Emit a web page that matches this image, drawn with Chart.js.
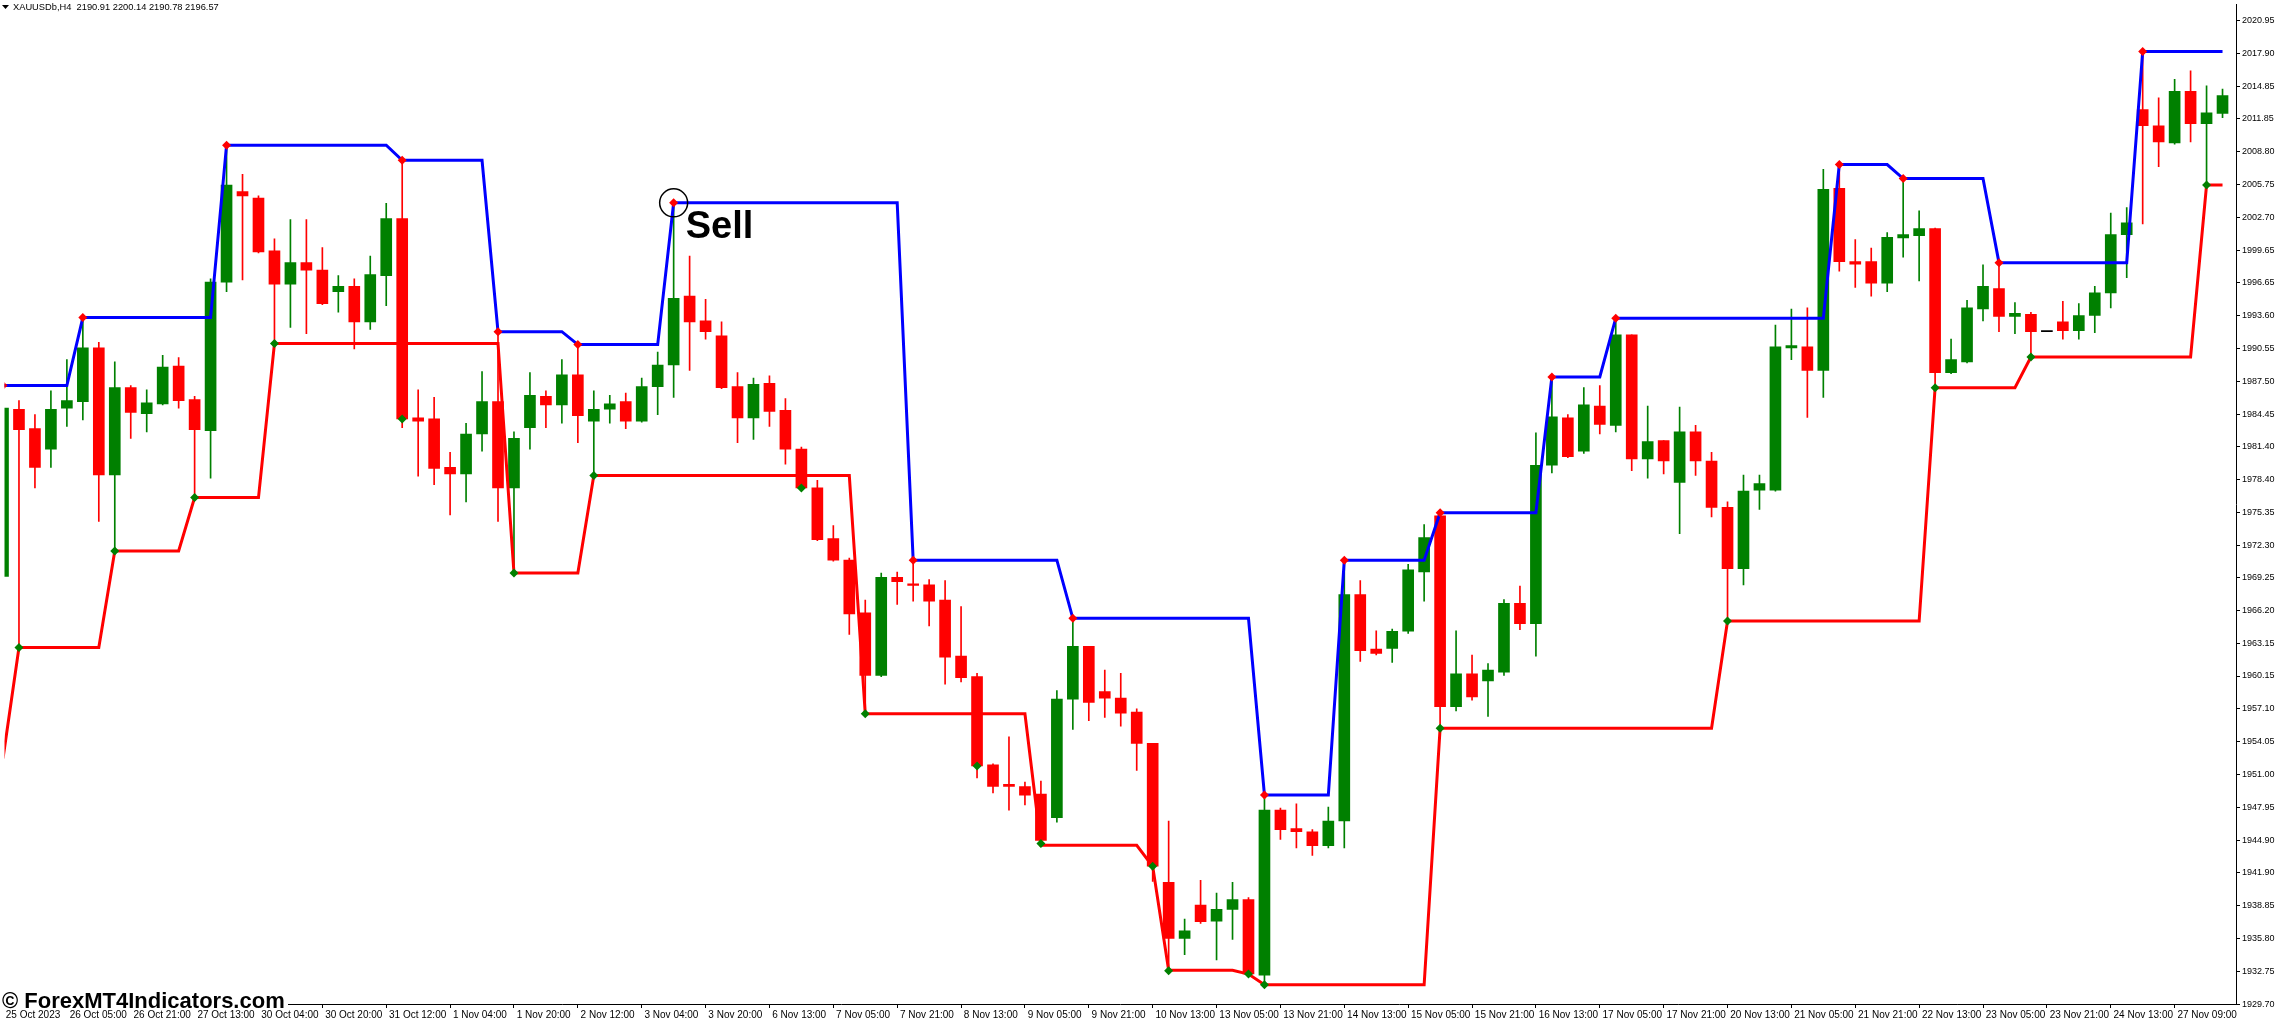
<!DOCTYPE html>
<html>
<head>
<meta charset="utf-8">
<title>XAUUSDb,H4</title>
<script src="https://cdn.jsdelivr.net/npm/chart.js@4.4.1/dist/chart.umd.min.js"></script>
<style>
    html, body { margin: 0; padding: 0; background: #fff; }
</style>
</head>
<body>
<canvas id="priceChart" width="2275" height="1026"></canvas>
<script>
const headerText = 'XAUUSDb,H4  2190.91 2200.14 2190.78 2196.57';

const opens = [
    1969.4, 1984.9, 1983.1, 1981.2, 1985.0, 1985.6, 1990.6, 1978.8, 1986.9, 1984.5,
    1985.4, 1988.9, 1985.8, 1982.9, 1996.7, 2005.1, 2004.5, 1999.6, 1996.5, 1998.5,
    1997.8, 1995.8, 1996.3, 1993.0, 1997.3, 2002.6, 1984.1, 1984.0, 1979.5, 1978.9,
    1982.6, 1985.6, 1977.6, 1983.2, 1986.1, 1985.3, 1988.1, 1983.8, 1984.9, 1985.6,
    1983.8, 1987.0, 1989.0, 1995.4, 1993.1, 1991.7, 1987.0, 1984.1, 1987.3, 1984.8,
    1981.2, 1977.6, 1972.9, 1970.9, 1966.0, 1960.2, 1969.3, 1968.7, 1968.6, 1967.2,
    1962.0, 1960.1, 1951.9, 1950.1, 1949.9, 1949.2, 1947.0, 1958.0, 1962.9, 1958.7,
    1958.1, 1956.8, 1953.9, 1941.0, 1935.8, 1938.9, 1937.4, 1938.5, 1939.4, 1932.4,
    1947.7, 1946.0, 1945.7, 1944.4, 1946.7, 1967.7, 1962.65, 1962.7, 1964.3, 1969.8,
    1975.0, 1957.3, 1960.35, 1959.7, 1960.5, 1966.9, 1965.0, 1979.7, 1984.1, 1981.0,
    1985.2, 1983.4, 1991.8, 1980.3, 1982.0, 1978.1, 1982.8, 1980.1, 1975.8, 1970.1,
    1977.4, 1977.4, 1990.6, 1990.7, 1988.5, 2005.4, 1998.6, 1998.6, 1996.6, 2000.8,
    2001.0, 2001.65, 1988.3, 1989.3, 1994.2, 1996.1, 1993.5, 1993.7, 1992.1, 1993.0,
    1992.2, 1993.6, 1995.7, 2001.1, 2012.7, 2011.2, 2009.6, 2014.4, 2011.4, 2012.35
];
const highs = [
    1985.6, 1985.7, 1984.4, 1986.6, 1989.5, 1993.4, 1991.1, 1989.3, 1987.1, 1986.7,
    1989.9, 1989.7, 1986.1, 1997.0, 2009.4, 2006.7, 2004.7, 2000.7, 2002.5, 2002.5,
    1999.9, 1997.3, 1997.0, 1999.1, 2004.0, 2008.0, 1986.7, 1986.0, 1980.9, 1983.6,
    1988.4, 1992.1, 1982.8, 1988.3, 1986.6, 1989.5, 1990.9, 1986.6, 1986.2, 1986.4,
    1987.8, 1990.2, 2004.05, 1999.1, 1995.1, 1993.0, 1988.3, 1987.8, 1988.0, 1985.9,
    1981.4, 1978.3, 1974.1, 1971.1, 1967.2, 1969.7, 1969.8, 1970.9, 1969.1, 1969.0,
    1966.6, 1960.4, 1952.0, 1954.5, 1950.3, 1950.4, 1958.8, 1965.5, 1962.9, 1960.7,
    1960.4, 1957.1, 1953.9, 1946.7, 1937.6, 1941.2, 1940.0, 1941.0, 1939.6, 1949.1,
    1947.9, 1948.3, 1945.9, 1948.0, 1970.9, 1969.0, 1964.35, 1964.5, 1970.5, 1974.2,
    1975.35, 1964.35, 1962.1, 1961.3, 1967.25, 1968.5, 1982.7, 1987.9, 1984.4, 1986.9,
    1987.1, 1993.35, 1991.8, 1985.2, 1982.0, 1985.1, 1983.4, 1980.9, 1976.3, 1978.8,
    1978.8, 1992.7, 1994.2, 1994.3, 2007.15, 2007.6, 2000.65, 1999.85, 2001.3, 2006.3,
    2003.3, 2001.7, 1991.4, 1995.0, 1998.3, 1998.5, 1994.8, 1993.9, 1992.1, 1994.9,
    1994.7, 1996.3, 2003.1, 2003.6, 2018.1, 2013.8, 2015.5, 2016.3, 2014.9, 2014.6
];
const lows = [
    1968.8, 1962.8, 1977.6, 1979.5, 1983.3, 1983.9, 1974.5, 1971.75, 1982.2, 1982.8,
    1985.3, 1985.0, 1976.7, 1978.5, 1995.8, 1996.9, 1999.4, 1991.0, 1992.5, 1991.9,
    1994.6, 1993.9, 1990.5, 1992.3, 1994.5, 1983.2, 1978.7, 1977.9, 1975.1, 1976.3,
    1981.0, 1974.5, 1969.7, 1981.2, 1983.2, 1983.6, 1981.8, 1978.75, 1983.6, 1983.1,
    1983.7, 1984.4, 1986.0, 1988.5, 1991.4, 1986.8, 1981.8, 1982.1, 1983.3, 1979.8,
    1977.4, 1972.7, 1970.8, 1964.0, 1956.65, 1960.1, 1966.8, 1967.1, 1964.8, 1959.4,
    1959.6, 1950.7, 1949.3, 1947.7, 1948.2, 1944.6, 1946.6, 1955.2, 1956.0, 1956.3,
    1955.5, 1951.4, 1941.1, 1932.8, 1934.3, 1937.2, 1933.8, 1935.7, 1932.4, 1931.5,
    1945.0, 1944.2, 1943.5, 1944.2, 1944.2, 1961.5, 1962.1, 1961.4, 1964.1, 1967.1,
    1955.3, 1956.9, 1957.9, 1956.4, 1960.2, 1964.45, 1962.0, 1979.0, 1980.4, 1980.8,
    1982.6, 1982.8, 1979.2, 1978.5, 1978.9, 1973.35, 1978.75, 1974.9, 1965.25, 1968.6,
    1975.6, 1977.3, 1989.5, 1984.15, 1986.0, 1997.7, 1996.2, 1995.4, 1995.8, 1999.0,
    1996.8, 1986.9, 1988.2, 1989.2, 1993.1, 1992.1, 1991.9, 1989.75, 1992.1, 1991.4,
    1991.4, 1992.0, 1994.3, 1997.1, 2002.1, 2007.4, 2009.5, 2009.7, 2005.7, 2011.95
];
const closes = [
    1985.0, 1983.0, 1979.5, 1984.9, 1985.7, 1990.6, 1978.8, 1986.9, 1984.6, 1985.5,
    1988.8, 1985.7, 1983.0, 1996.7, 2005.7, 2004.7, 1999.5, 1996.5, 1998.5, 1997.8,
    1994.7, 1996.3, 1993.0, 1997.4, 2002.6, 1984.0, 1983.8, 1979.4, 1978.9, 1982.6,
    1985.6, 1977.6, 1982.2, 1986.2, 1985.3, 1988.1, 1984.3, 1984.9, 1985.4, 1983.8,
    1987.0, 1989.0, 1995.2, 1993.0, 1992.1, 1986.9, 1984.1, 1987.2, 1984.7, 1981.2,
    1977.6, 1972.8, 1970.9, 1965.9, 1960.2, 1969.3, 1968.9, 1968.55, 1967.1, 1961.9,
    1960.0, 1951.8, 1949.9, 1949.9, 1949.1, 1944.9, 1958.0, 1962.9, 1957.7, 1958.1,
    1956.7, 1953.9, 1942.5, 1935.8, 1936.5, 1937.35, 1938.5, 1939.4, 1932.5, 1947.7,
    1945.9, 1945.7, 1944.4, 1946.7, 1967.7, 1962.5, 1962.25, 1964.3, 1970.0, 1973.0,
    1957.3, 1960.35, 1958.2, 1960.7, 1966.9, 1965.0, 1979.7, 1984.2, 1980.5, 1985.3,
    1983.5, 1991.8, 1980.3, 1981.9, 1980.1, 1982.8, 1980.1, 1975.8, 1970.1, 1977.3,
    1978.0, 1990.7, 1990.8, 1988.5, 2005.3, 1998.6, 1998.35, 1996.6, 2000.85, 2001.1,
    2001.65, 1988.3, 1989.5, 1994.3, 1996.3, 1993.5, 1993.8, 1992.1, 1992.1, 1992.2,
    1993.6, 1995.7, 2001.1, 2002.2, 2011.2, 2009.7, 2014.4, 2011.4, 2012.4, 2014.0
];

// channel lines (blue = last swing high, red = last swing low)
const upperBand = [
    1987.1, 1987.1, 1987.1, 1987.1, 1987.1, 1993.4, 1993.4, 1993.4, 1993.4, 1993.4,
    1993.4, 1993.4, 1993.4, 1993.4, 2009.4, 2009.4, 2009.4, 2009.4, 2009.4, 2009.4,
    2009.4, 2009.4, 2009.4, 2009.4, 2009.4, 2008.0, 2008.0, 2008.0, 2008.0, 2008.0,
    2008.0, 1992.1, 1992.1, 1992.1, 1992.1, 1992.1, 1990.9, 1990.9, 1990.9, 1990.9,
    1990.9, 1990.9, 2004.05, 2004.05, 2004.05, 2004.05, 2004.05, 2004.05, 2004.05, 2004.05,
    2004.05, 2004.05, 2004.05, 2004.05, 2004.05, 2004.05, 2004.05, 1970.9, 1970.9, 1970.9,
    1970.9, 1970.9, 1970.9, 1970.9, 1970.9, 1970.9, 1970.9, 1965.5, 1965.5, 1965.5,
    1965.5, 1965.5, 1965.5, 1965.5, 1965.5, 1965.5, 1965.5, 1965.5, 1965.5, 1949.1,
    1949.1, 1949.1, 1949.1, 1949.1, 1970.9, 1970.9, 1970.9, 1970.9, 1970.9, 1970.9,
    1975.3, 1975.3, 1975.3, 1975.3, 1975.3, 1975.3, 1975.3, 1987.9, 1987.9, 1987.9,
    1987.9, 1993.35, 1993.35, 1993.35, 1993.35, 1993.35, 1993.35, 1993.35, 1993.35, 1993.35,
    1993.35, 1993.35, 1993.35, 1993.35, 1993.35, 2007.6, 2007.6, 2007.6, 2007.6, 2006.3,
    2006.3, 2006.3, 2006.3, 2006.3, 2006.3, 1998.5, 1998.5, 1998.5, 1998.5, 1998.5,
    1998.5, 1998.5, 1998.5, 1998.5, 2018.1, 2018.1, 2018.1, 2018.1, 2018.1, 2018.1
];
const lowerBand = [
    1952.5, 1962.8, 1962.8, 1962.8, 1962.8, 1962.8, 1962.8, 1971.75, 1971.75, 1971.75,
    1971.75, 1971.75, 1976.7, 1976.7, 1976.7, 1976.7, 1976.7, 1991.0, 1991.0, 1991.0,
    1991.0, 1991.0, 1991.0, 1991.0, 1991.0, 1991.0, 1991.0, 1991.0, 1991.0, 1991.0,
    1991.0, 1991.0, 1969.7, 1969.7, 1969.7, 1969.7, 1969.7, 1978.75, 1978.75, 1978.75,
    1978.75, 1978.75, 1978.75, 1978.75, 1978.75, 1978.75, 1978.75, 1978.75, 1978.75, 1978.75,
    1978.75, 1978.75, 1978.75, 1978.75, 1956.65, 1956.65, 1956.65, 1956.65, 1956.65, 1956.65,
    1956.65, 1956.65, 1956.65, 1956.65, 1956.65, 1944.45, 1944.45, 1944.45, 1944.45, 1944.45,
    1944.45, 1944.45, 1942.5, 1932.85, 1932.85, 1932.85, 1932.85, 1932.85, 1932.5, 1931.5,
    1931.5, 1931.5, 1931.5, 1931.5, 1931.5, 1931.5, 1931.5, 1931.5, 1931.5, 1931.5,
    1955.3, 1955.3, 1955.3, 1955.3, 1955.3, 1955.3, 1955.3, 1955.3, 1955.3, 1955.3,
    1955.3, 1955.3, 1955.3, 1955.3, 1955.3, 1955.3, 1955.3, 1955.3, 1965.25, 1965.25,
    1965.25, 1965.25, 1965.25, 1965.25, 1965.25, 1965.25, 1965.25, 1965.25, 1965.25, 1965.25,
    1965.25, 1986.9, 1986.9, 1986.9, 1986.9, 1986.9, 1986.9, 1989.75, 1989.75, 1989.75,
    1989.75, 1989.75, 1989.75, 1989.75, 1989.75, 1989.75, 1989.75, 1989.75, 2005.7, 2005.7
];

const highMarkBars = [0, 5, 14, 25, 31, 36, 42, 57, 67, 79, 84, 90, 97, 101, 115, 119, 125, 134];
const highMarkPrices = [1987.1, 1993.4, 2009.4, 2008.0, 1992.1, 1990.9, 2004.05, 1970.9, 1965.5, 1949.1, 1970.9, 1975.3, 1987.9, 1993.35, 2007.6, 2006.3, 1998.5, 2018.1];
const lowMarkBars = [1, 7, 12, 17, 25, 32, 37, 50, 54, 61, 65, 72, 73, 78, 79, 90, 108, 121, 127, 138];
const lowMarkPrices = [1962.8, 1971.75, 1976.7, 1991.0, 1984.0, 1969.7, 1978.75, 1977.6, 1956.65, 1951.8, 1944.6, 1942.5, 1932.8, 1932.5, 1931.5, 1955.3, 1965.25, 1986.9, 1989.75, 2005.7];

const sellBar = 42;
const sellPrice = 2004.05;

// one label every 4 bars
const xTickLabels = [
    '25 Oct 2023', '26 Oct 05:00', '26 Oct 21:00', '27 Oct 13:00', '30 Oct 04:00', '30 Oct 20:00',
    '31 Oct 12:00', '1 Nov 04:00', '1 Nov 20:00', '2 Nov 12:00', '3 Nov 04:00', '3 Nov 20:00',
    '6 Nov 13:00', '7 Nov 05:00', '7 Nov 21:00', '8 Nov 13:00', '9 Nov 05:00', '9 Nov 21:00',
    '10 Nov 13:00', '13 Nov 05:00', '13 Nov 21:00', '14 Nov 13:00', '15 Nov 05:00', '15 Nov 21:00',
    '16 Nov 13:00', '17 Nov 05:00', '17 Nov 21:00', '20 Nov 13:00', '21 Nov 05:00', '21 Nov 21:00',
    '22 Nov 13:00', '23 Nov 05:00', '23 Nov 21:00', '24 Nov 13:00', '27 Nov 09:00'
];
const yTickValues = [
    2020.95, 2017.90, 2014.85, 2011.85, 2008.80, 2005.75, 2002.70, 1999.65, 1996.65, 1993.60,
    1990.55, 1987.50, 1984.45, 1981.40, 1978.40, 1975.35, 1972.30, 1969.25, 1966.20, 1963.15,
    1960.15, 1957.10, 1954.05, 1951.00, 1947.95, 1944.90, 1941.90, 1938.85, 1935.80, 1932.75,
    1929.70
];

const UP = '#008000';
const DOWN = '#ff0000';
const FONT_FAMILY = '"Liberation Sans", Arial, sans-serif';

function candleColor(i) {
    if (closes[i] > opens[i]) return UP;
    if (closes[i] < opens[i]) return DOWN;
    return '#000000';
}

const bars = opens.map((_, i) => i);
const bodies = bars.map(i => ({ x: i, y: [Math.min(opens[i], closes[i]), Math.max(opens[i], closes[i])] }));
const wicks = bars.map(i => ({ x: i, y: [lows[i], highs[i]] }));
const colors = bars.map(candleColor);

const overlayText = {
    id: 'overlayText',
    afterDraw(chart) {
        const { ctx, scales: { x, y } } = chart;
        ctx.save();

        ctx.fillStyle = '#000';
        ctx.beginPath();
        ctx.moveTo(2, 5);
        ctx.lineTo(9, 5);
        ctx.lineTo(5.5, 9);
        ctx.closePath();
        ctx.fill();
        ctx.font = '9.3px ' + FONT_FAMILY;
        ctx.textBaseline = 'middle';
        ctx.fillText(headerText, 13, 7);

        const sx = x.getPixelForValue(sellBar);
        const sy = y.getPixelForValue(sellPrice);
        ctx.strokeStyle = '#000';
        ctx.lineWidth = 1.5;
        ctx.beginPath();
        ctx.arc(sx, sy, 14, 0, Math.PI * 2);
        ctx.stroke();
        ctx.textBaseline = 'alphabetic';
        ctx.font = 'bold 38px ' + FONT_FAMILY;
        ctx.fillText('Sell', sx + 12, sy + 35);

        ctx.fillStyle = '#fff';
        ctx.fillRect(0, 990, 288, 19);
        ctx.fillStyle = '#000';
        ctx.font = 'bold 22px ' + FONT_FAMILY;
        ctx.fillText('\u00A9 ForexMT4Indicators.com', 2, 1008);
        ctx.restore();
    }
};

const ctx = document.getElementById('priceChart').getContext('2d');

new Chart(ctx, {
    type: 'bar',
    data: {
        datasets: [
            {
                type: 'scatter',
                data: highMarkBars.map((b, k) => ({ x: b, y: highMarkPrices[k] })),
                pointStyle: 'rectRot',
                pointRadius: 4.5,
                backgroundColor: DOWN,
                borderWidth: 0,
                order: 0
            },
            {
                type: 'scatter',
                data: lowMarkBars.map((b, k) => ({ x: b, y: lowMarkPrices[k] })),
                pointStyle: 'rectRot',
                pointRadius: 4.5,
                backgroundColor: UP,
                borderWidth: 0,
                order: 0
            },
            {
                type: 'line',
                data: bars.map(i => ({ x: i, y: upperBand[i] })),
                borderColor: '#0000ff',
                borderWidth: 3,
                pointRadius: 0,
                tension: 0,
                order: 1
            },
            {
                type: 'line',
                data: bars.map(i => ({ x: i, y: lowerBand[i] })),
                borderColor: DOWN,
                borderWidth: 3,
                pointRadius: 0,
                tension: 0,
                order: 1
            },
            {
                data: bodies,
                backgroundColor: colors,
                barThickness: 11,
                minBarLength: 1,
                grouped: false,
                order: 2
            },
            {
                data: wicks,
                backgroundColor: colors,
                barThickness: 1,
                grouped: false,
                order: 3
            }
        ]
    },
    options: {
        responsive: false,
        animation: false,
        devicePixelRatio: 1,
        layout: { padding: 0 },
        plugins: {
            legend: { display: false },
            tooltip: { enabled: false }
        },
        scales: {
            x: {
                type: 'linear',
                position: 'bottom',
                offset: false,
                min: 0.09375,
                max: 139.84375,
                grid: { offset: false, drawOnChartArea: false, drawTicks: true, tickLength: 4, color: '#000' },
                border: { display: true, color: '#000', width: 1 },
                ticks: {
                    font: { family: FONT_FAMILY, size: 10 },
                    color: '#000',
                    align: 'start',
                    maxRotation: 0,
                    autoSkip: false,
                    padding: 1,
                    callback: (value, index) => ' ' + xTickLabels[index]
                },
                afterBuildTicks: scale => {
                    scale.ticks = xTickLabels.map((_, k) => ({ value: k * 4 }));
                },
                afterFit: scale => {
                    scale.height = 22;
                    scale.paddingLeft = 0;
                    scale.paddingRight = 0;
                }
            },
            y: {
                type: 'linear',
                position: 'right',
                min: 1929.72,
                max: 2022.45,
                grid: { drawOnChartArea: false, drawTicks: true, tickLength: 4, color: '#000' },
                border: { display: true, color: '#000', width: 1 },
                ticks: {
                    font: { family: FONT_FAMILY, size: 9 },
                    color: '#000',
                    padding: 2,
                    callback: value => value.toFixed(2)
                },
                afterBuildTicks: scale => {
                    scale.ticks = yTickValues.map(v => ({ value: v }));
                },
                afterFit: scale => {
                    scale.width = 39;
                    scale.paddingTop = 0;
                    scale.paddingBottom = 0;
                }
            }
        }
    },
    plugins: [overlayText]
});
</script>
</body>
</html>
